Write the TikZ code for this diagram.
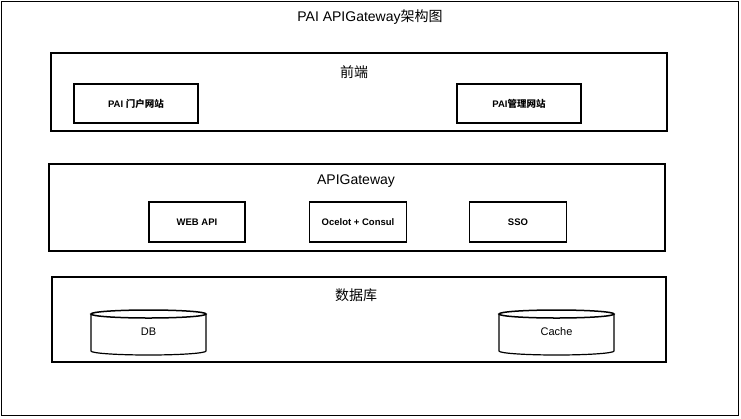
\documentclass[tikz,border=0pt]{standalone}
\usepackage{fontspec}
\setmainfont{Liberation Sans}
\newfontfamily\cjk{Noto Sans CJK SC}
\newfontfamily\cjkb{Noto Sans CJK SC Medium}
\begin{document}
\begin{tikzpicture}[x=1pt,y=-1pt,
  frame/.style={draw=black, line width=1pt},
  group/.style={draw=black, line width=1.2pt},
  item/.style={draw=black, line width=1.5pt, font=\fontsize{9.5}{10}\selectfont\bfseries},
  head/.style={font=\fontsize{14}{16}\selectfont},
  dbtext/.style={font=\fontsize{11}{12}\selectfont}]
\useasboundingbox (0,0) rectangle (741,418);
\draw[frame] (1,1) rectangle (738,415);
\node[head] (title) at (370,17) {PAI APIGateway{\cjk 架构图}};
% frontend
\draw[group] (51,53) rectangle (667,131);
\node[head] (fe) at (354,72) {\cjk 前端};
\node[item, minimum width=124, minimum height=39] (portal) at (136,103.5) {PAI {\cjk\bfseries 门户网站}};
\node[item, minimum width=124, minimum height=39] (admin) at (519,103.5) {PAI{\cjk\bfseries 管理网站}};
% gateway
\draw[group] (49,164) rectangle (665,251);
\node[head] (gw) at (356,181) {APIGateway};
\node[item, minimum width=96, minimum height=40] (webapi) at (197,222) {WEB API};
\node[item, minimum width=97, minimum height=40] (ocelot) at (358,222) {Ocelot + Consul};
\node[item, minimum width=97, minimum height=40] (sso) at (518,222) {SSO};
% database
\draw[group] (52,277) rectangle (666,362);
\node[head] (db) at (356,295) {\cjk 数据库};
\foreach \cx/\nm/\lbl in {148.5/dbn/DB, 556.5/cachen/Cache}{
  \draw[line width=1.2pt] (\cx-57.5,314) -- (\cx-57.5,351) arc[start angle=180,end angle=360,x radius=57.5,y radius=-4] -- (\cx+57.5,314);
  \draw[line width=1.5pt] (\cx,314) ellipse[x radius=57.5, y radius=4];
  \node[dbtext] (\nm) at (\cx,332) {\lbl};
}
\end{tikzpicture}
\end{document}
